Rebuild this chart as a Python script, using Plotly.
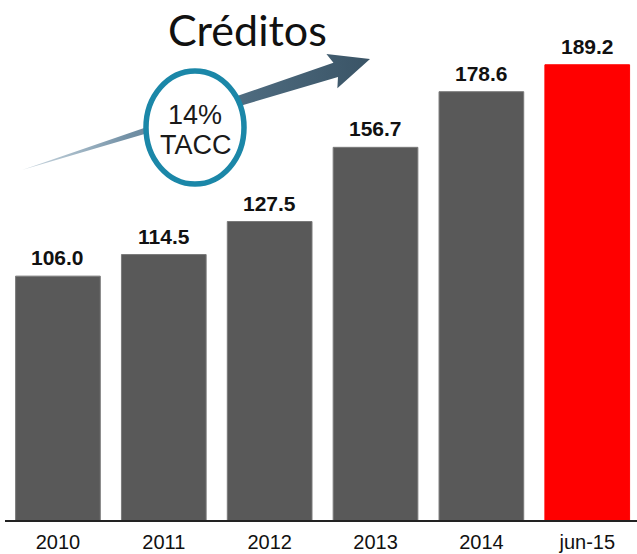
import plotly.graph_objects as go

categories = ["2010", "2011", "2012", "2013", "2014", "jun-15"]
values = [106.0, 114.5, 127.5, 156.7, 178.6, 189.2]
bar_colors = ["#595959", "#595959", "#595959", "#595959", "#595959", "#ff0000"]
line_colors = ["#7a7a7a", "#7a7a7a", "#7a7a7a", "#7a7a7a", "#7a7a7a", "#ff0000"]
title_text = "Créditos"
cagr_lines = ["14%", "TACC"]

W, H = 637, 554
ML, MR, MT, MB = 5, 0, 0, 34
PW, PH = W - ML - MR, H - MT - MB


def px_x(px):
    return (px - ML) / PW


def px_y(py):
    return (PH - (py - MT)) / PH


fig = go.Figure()
fig.add_trace(go.Bar(
    x=categories, y=values,
    marker=dict(color=bar_colors, line=dict(color=line_colors, width=1)),
    hoverinfo="x+y", showlegend=False,
))

# decorative tapered arrow drawn on a pixel-coordinate overlay axis
tail = (22, 170)
tip = (370, 59)
dx, dy = tip[0] - tail[0], tip[1] - tail[1]
ln = (dx * dx + dy * dy) ** 0.5
ux, uy = dx / ln, dy / ln
nx, ny = -uy, ux
hb = (tip[0] - 36 * ux, tip[1] - 36 * uy)
shaft_hw, head_hw = 7.5, 18
pts = [
    tail,
    (hb[0] - shaft_hw * nx, hb[1] - shaft_hw * ny),
    (hb[0] - head_hw * nx - 4 * ux, hb[1] - head_hw * ny - 4 * uy),
    tip,
    (hb[0] + head_hw * nx - 4 * ux, hb[1] + head_hw * ny - 4 * uy),
    (hb[0] + shaft_hw * nx, hb[1] + shaft_hw * ny),
    tail,
]
fig.add_trace(go.Scatter(
    x=[p[0] for p in pts], y=[p[1] for p in pts],
    xaxis="x2", yaxis="y2", mode="lines", line=dict(width=0),
    fill="toself",
    fillgradient=dict(type="horizontal",
                      colorscale=[[0, "rgba(150,175,192,0.5)"], [0.3, "#7391a6"],
                                  [0.65, "#4d6a7e"], [1, "#3a5466"]]),
    fillcolor="#46627a", hoverinfo="skip", showlegend=False,
))

shapes = [dict(type="circle", xref="paper", yref="paper",
               x0=px_x(146), x1=px_x(244), y0=px_y(184), y1=px_y(71),
               line=dict(color="#1b87a8", width=5.5), fillcolor="white", layer="above")]

annotations = []
for i, v in enumerate(values):
    annotations.append(dict(x=i, y=v, xref="x", yref="y", text=f"<b>{v:.1f}</b>",
                            showarrow=False, yanchor="bottom", yshift=5,
                            font=dict(family="Liberation Sans", size=21, color="#111111")))
annotations.append(dict(x=px_x(247), y=px_y(29), xref="paper", yref="paper",
                        text=title_text, showarrow=False, xanchor="center", yanchor="middle",
                        font=dict(family="Lato", size=43, color="#111111")))
annotations.append(dict(x=px_x(195), y=px_y(115), xref="paper", yref="paper",
                        text=cagr_lines[0], showarrow=False, xanchor="center", yanchor="middle",
                        font=dict(family="Liberation Sans", size=27, color="#1a1a1a")))
annotations.append(dict(x=px_x(196), y=px_y(145), xref="paper", yref="paper",
                        text=cagr_lines[1], showarrow=False, xanchor="center", yanchor="middle",
                        font=dict(family="Liberation Sans", size=27, color="#1a1a1a")))

fig.update_layout(
    width=W, height=H,
    margin=dict(l=ML, r=MR, t=MT, b=MB),
    paper_bgcolor="white", plot_bgcolor="white",
    bargap=0.2,
    xaxis=dict(type="category", range=[-0.5, 5.47], showgrid=False, zeroline=False, showline=True,
               linecolor="#222222", linewidth=1.5, ticks="", ticklabelstandoff=3,
               tickfont=dict(family="Liberation Sans", size=20, color="#111111")),
    yaxis=dict(range=[10, 214.7], visible=False, showgrid=False, zeroline=False),
    xaxis2=dict(overlaying="x", range=[ML, W - MR], visible=False, anchor="y2"),
    yaxis2=dict(overlaying="y", range=[MT + PH, MT], visible=False, anchor="x2"),
    shapes=shapes,
    annotations=annotations,
)

fig.write_html("out.html", config={"displayModeBar": False},
               post_script="document.body.style.margin='0';document.body.style.overflow='hidden';")
